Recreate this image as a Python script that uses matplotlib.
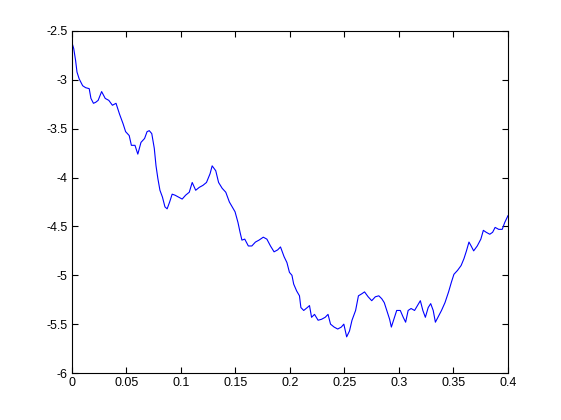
import matplotlib
matplotlib.use("Agg")
import matplotlib.pyplot as plt

# path
t = [0, 0.0016, 0.0033, 0.0046, 0.0066, 0.0098, 0.0125, 0.0158, 0.0174, 0.0197,
     0.0217, 0.0240, 0.0272, 0.0305, 0.0338, 0.0371, 0.0404, 0.0436, 0.0469, 0.0492,
     0.0525, 0.0545, 0.0578, 0.0604, 0.0633, 0.0666, 0.0689, 0.0709, 0.0732, 0.0755,
     0.0771, 0.0788, 0.0807, 0.0830, 0.0853, 0.0873, 0.0896, 0.0919, 0.0945, 0.0978,
     0.1011, 0.1043, 0.1076, 0.1103, 0.1135, 0.1168, 0.1201, 0.1234, 0.1267, 0.1286,
     0.1319, 0.1345, 0.1378, 0.1411, 0.1444, 0.1470, 0.1496, 0.1523, 0.1542, 0.1559,
     0.1585, 0.1618, 0.1650, 0.1683, 0.1716, 0.1755, 0.1788, 0.1821, 0.1854, 0.1887,
     0.1913, 0.1946, 0.1972, 0.1995, 0.2018, 0.2034, 0.2061, 0.2087, 0.2100, 0.2126,
     0.2159, 0.2179, 0.2198, 0.2225, 0.2258, 0.2290, 0.2323, 0.2349, 0.2372, 0.2405,
     0.2438, 0.2471, 0.2494, 0.2520, 0.2546, 0.2569, 0.2602, 0.2628, 0.2658, 0.2684,
     0.2717, 0.2750, 0.2783, 0.2815, 0.2842, 0.2865, 0.2888, 0.2914, 0.2930, 0.2953,
     0.2979, 0.3012, 0.3039, 0.3061, 0.3084, 0.3111, 0.3143, 0.3170, 0.3196, 0.3219,
     0.3242, 0.3268, 0.3291, 0.3314, 0.3334, 0.3357, 0.3390, 0.3422, 0.3455, 0.3481,
     0.3504, 0.3537, 0.3570, 0.3596, 0.3619, 0.3642, 0.3662, 0.3685, 0.3718, 0.3751,
     0.3774, 0.3800, 0.3833, 0.3859, 0.3882, 0.3915, 0.3947, 0.3970, 0.4000]

v = [-2.62, -2.68, -2.80, -2.92, -2.99, -3.06, -3.08, -3.09, -3.19, -3.24,
     -3.23, -3.21, -3.12, -3.19, -3.21, -3.26, -3.24, -3.35, -3.45, -3.53,
     -3.57, -3.67, -3.67, -3.76, -3.64, -3.60, -3.53, -3.52, -3.55, -3.70,
     -3.88, -4.01, -4.13, -4.20, -4.30, -4.32, -4.25, -4.17, -4.18, -4.20,
     -4.22, -4.18, -4.15, -4.05, -4.13, -4.10, -4.08, -4.05, -3.96, -3.88,
     -3.93, -4.05, -4.11, -4.15, -4.25, -4.30, -4.35, -4.46, -4.56, -4.64,
     -4.63, -4.70, -4.70, -4.66, -4.64, -4.61, -4.63, -4.70, -4.76, -4.74,
     -4.71, -4.81, -4.87, -4.97, -5.00, -5.09, -5.16, -5.21, -5.33, -5.36,
     -5.33, -5.31, -5.43, -5.40, -5.46, -5.45, -5.43, -5.40, -5.50, -5.53,
     -5.55, -5.53, -5.50, -5.63, -5.57, -5.46, -5.36, -5.21, -5.19, -5.17,
     -5.22, -5.26, -5.22, -5.21, -5.24, -5.28, -5.36, -5.45, -5.53, -5.45,
     -5.36, -5.36, -5.43, -5.48, -5.36, -5.34, -5.36, -5.31, -5.26, -5.36,
     -5.43, -5.33, -5.29, -5.36, -5.48, -5.43, -5.36, -5.28, -5.17, -5.07,
     -4.99, -4.95, -4.90, -4.83, -4.75, -4.66, -4.70, -4.75, -4.70, -4.63,
     -4.54, -4.56, -4.58, -4.56, -4.51, -4.53, -4.53, -4.46, -4.39]

xticks = [0, 0.05, 0.1, 0.15, 0.2, 0.25, 0.3, 0.35, 0.4]
xlabels = ["0", "0.05", "0.1", "0.15", "0.2", "0.25", "0.3", "0.35", "0.4"]
yticks = [-6, -5.5, -5, -4.5, -4, -3.5, -3, -2.5]
ylabels = ["-6", "-5.5", "-5", "-4.5", "-4", "-3.5", "-3", "-2.5"]

plt.rcParams['font.family'] = ['Liberation Sans', 'DejaVu Sans']

fig = plt.figure(figsize=(5.61, 4.2), dpi=100)
ax = fig.add_axes([0.1283, 0.1119, 0.7772, 0.8143])
ax.plot(t, v, color=(0, 0, 1), lw=0.8)

ax.set_xlim(0, 0.4)
ax.set_ylim(-6, -2.5)
ax.set_xticks(xticks)
ax.set_xticklabels(xlabels)
ax.set_yticks(yticks)
ax.set_yticklabels(ylabels)
ax.tick_params(direction='in', top=True, right=True, length=4, width=0.8,
               labelsize=9, pad=3)
for s in ax.spines.values():
    s.set_linewidth(0.8)

fig.savefig("out.png", dpi=100)
